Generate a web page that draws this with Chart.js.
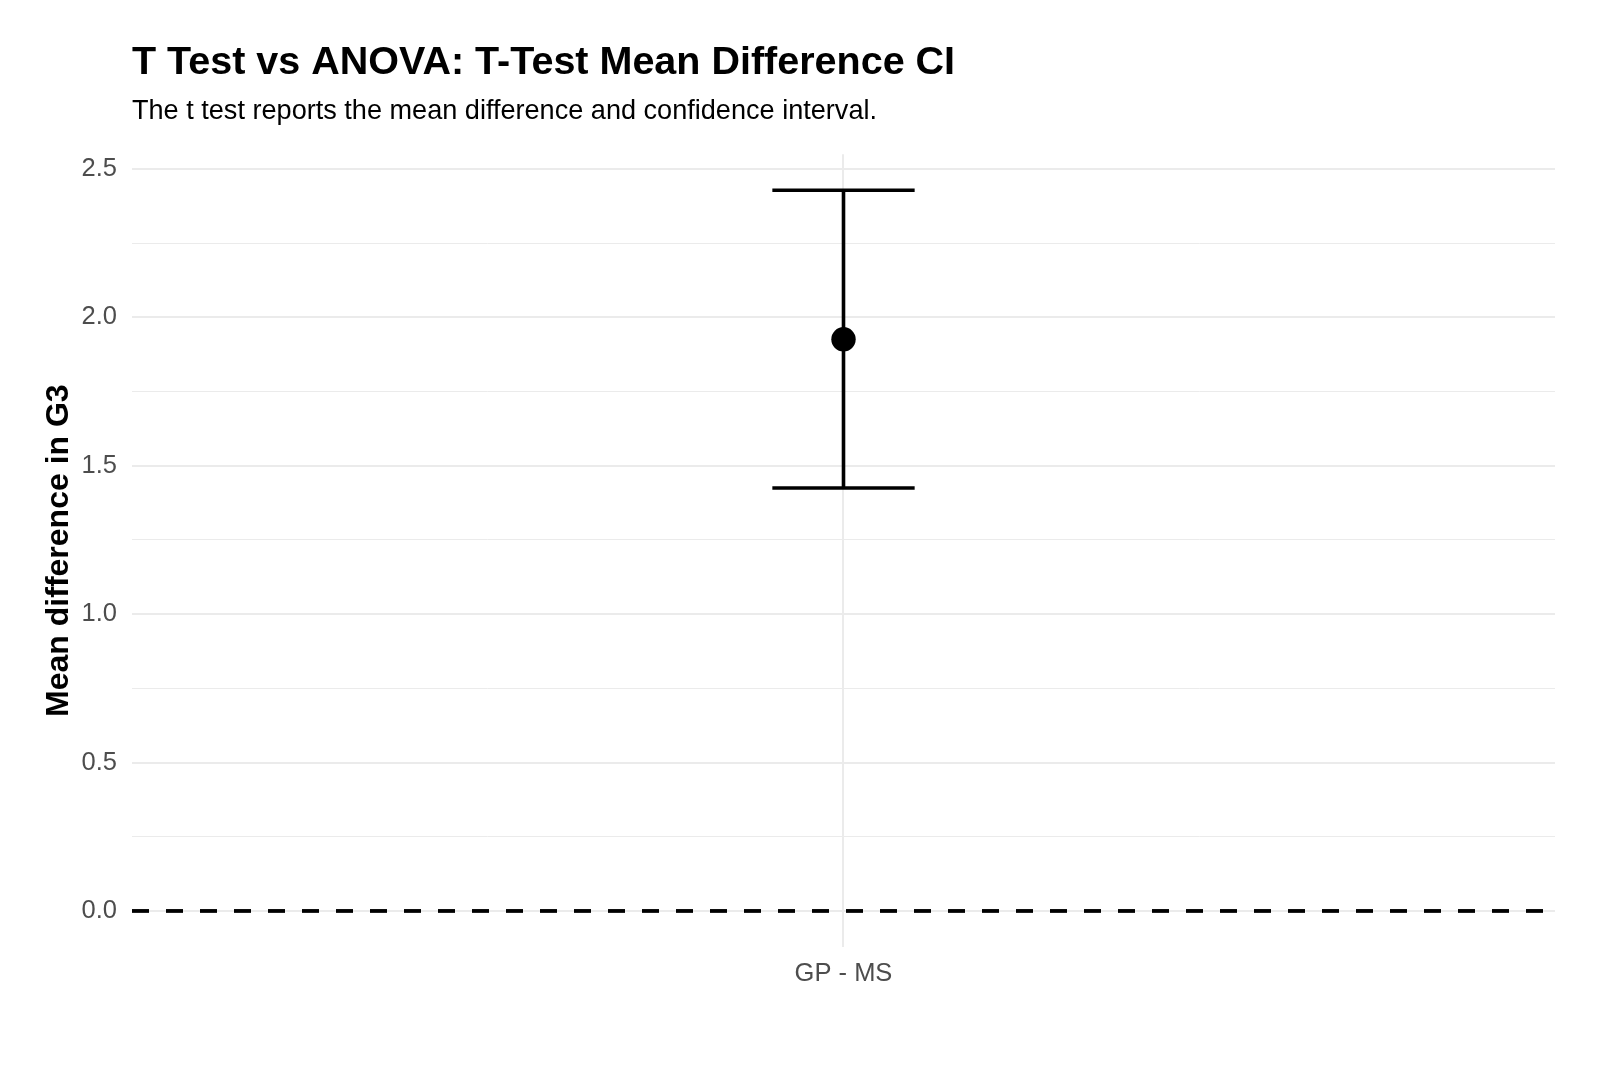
<!DOCTYPE html>
<html>
<head>
<meta charset="utf-8">
<script src="https://cdn.jsdelivr.net/npm/chart.js@4/dist/chart.umd.min.js"></script>
<style>
  html, body { margin: 0; padding: 0; background: #ffffff; }
  #wrap { width: 1600px; height: 1067px; position: relative; }
</style>
</head>
<body>
<div id="wrap"><canvas id="c" width="1600" height="1067"></canvas></div>
<script>
// ---- data ----
const categories = ['GP - MS'];
const meanDiff = [1.926];
const ciLower = [1.425];
const ciUpper = [2.428];
const refLineY = [0];
const yTickValues = [0, 0.5, 1.0, 1.5, 2.0, 2.5];
const titleText = 'T Test vs ANOVA: T-Test Mean Difference CI';
const subtitleText = 'The t test reports the mean difference and confidence interval.';
const yAxisTitle = 'Mean difference in G3';

// ---- derived ----
const FONT = '"Liberation Sans", Arial, Helvetica, sans-serif';
const capHalf = 0.06;          // errorbar cap half-width (x units)
const xMin = 1 - 0.6, xMax = categories.length + 0.6;
const yLo = Math.min(...refLineY, ...ciLower), yHi = Math.max(...refLineY, ...ciUpper);
const yPad = 0.05 * (yHi - yLo);

const datasets = [];
// dashed reference line
refLineY.forEach(v => {
  datasets.push({
    type: 'line', data: [{x: xMin, y: v}, {x: xMax, y: v}],
    borderColor: '#000000', borderWidth: 3.8, borderDash: [17, 17],
    pointRadius: 0, order: 3, clip: false
  });
});
// error bars
categories.forEach((c, i) => {
  const x = i + 1;
  const common = {type: 'line', borderColor: '#000000', borderWidth: 3.6, pointRadius: 0, order: 2};
  datasets.push(Object.assign({}, common, {data: [{x: x, y: ciLower[i]}, {x: x, y: ciUpper[i]}]}));
  datasets.push(Object.assign({}, common, {data: [{x: x - capHalf, y: ciUpper[i]}, {x: x + capHalf, y: ciUpper[i]}]}));
  datasets.push(Object.assign({}, common, {data: [{x: x - capHalf, y: ciLower[i]}, {x: x + capHalf, y: ciLower[i]}]}));
});
// mean point
datasets.push({
  type: 'scatter', data: meanDiff.map((v, i) => ({x: i + 1, y: v})),
  backgroundColor: '#000000', borderColor: '#000000', pointRadius: 12.2, pointBorderWidth: 0, order: 1
});

new Chart(document.getElementById('c'), {
  type: 'line',
  data: { datasets: datasets },
  options: {
    responsive: false,
    animation: false,
    events: [],
    layout: { padding: { left: 0, right: 45, top: 0, bottom: 0 } },
    plugins: {
      legend: { display: false },
      tooltip: { enabled: false },
      title: {
        display: true, text: titleText, align: 'start', fullSize: false,
        color: '#000000', font: { family: FONT, size: 39.5, weight: 'bold', lineHeight: 1.2 },
        padding: { top: 39, bottom: 9 }
      },
      subtitle: {
        display: true, text: subtitleText, align: 'start', fullSize: false,
        color: '#000000', font: { family: FONT, size: 27.1, weight: 'normal', lineHeight: 1.2 },
        padding: { top: 0, bottom: 26.3 }
      }
    },
    scales: {
      x: {
        type: 'linear', min: xMin, max: xMax,
        afterBuildTicks: s => { s.ticks = categories.map((c, i) => ({value: i + 1})); },
        afterFit: s => { s.height = 120; },
        ticks: {
          callback: v => categories[Math.round(v) - 1] ?? '',
          color: '#4d4d4d', font: { family: FONT, size: 25.5 }, padding: 12, maxRotation: 0
        },
        grid: { color: '#ebebeb', lineWidth: 2, drawTicks: false },
        border: { display: false }
      },
      y: {
        type: 'linear', min: yLo - yPad, max: yHi + yPad,
        afterBuildTicks: s => {
          const t = [];
          for (let k = 0; k < yTickValues.length; k++) {
            t.push({value: yTickValues[k]});
            if (k < yTickValues.length - 1) t.push({value: (yTickValues[k] + yTickValues[k + 1]) / 2, minor: true});
          }
          s.ticks = t;
        },
        afterFit: s => { s.width = 132; },
        ticks: {
          callback: (v) => yTickValues.includes(v) ? v.toFixed(1) : '',
          color: '#4d4d4d', font: { family: FONT, size: 25.5 }, padding: 15
        },
        grid: {
          color: '#ebebeb',
          lineWidth: ctx => (ctx.tick && yTickValues.includes(ctx.tick.value)) ? 2 : 1,
          drawTicks: false
        },
        border: { display: false },
        title: {
          display: true, text: yAxisTitle, color: '#000000',
          font: { family: FONT, size: 32, weight: 'bold', lineHeight: 1.2 },
          padding: { top: 40, bottom: 0 }
        }
      }
    }
  }
});
</script>
</body>
</html>
